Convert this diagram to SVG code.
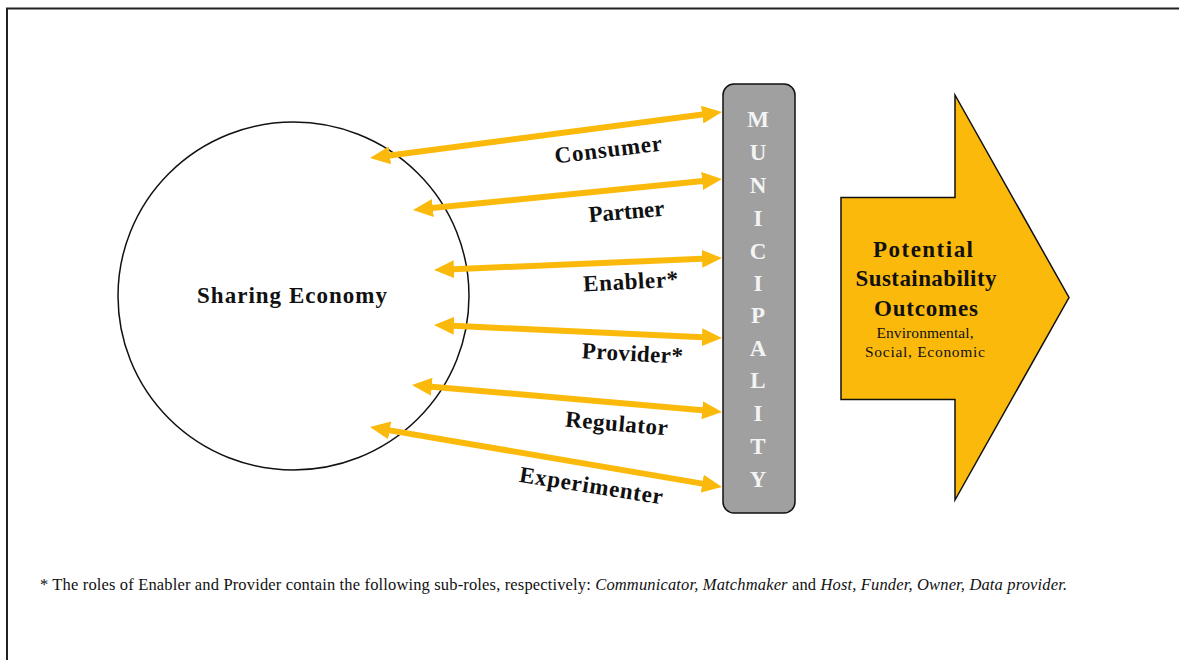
<svg xmlns="http://www.w3.org/2000/svg" width="1179" height="660" viewBox="0 0 1179 660">
<defs>
<style>
.lbl{font-family:"Liberation Serif","Times New Roman",serif;font-weight:bold;font-size:23px;fill:#111;text-anchor:middle}
.conn{stroke:#FBBA0B;stroke-width:6;fill:none;marker-start:url(#ah);marker-end:url(#ah)}
.muni{font-family:"Liberation Serif","Times New Roman",serif;font-weight:bold;font-size:23px;fill:#f4f4f4;text-anchor:middle}
.out{font-family:"Liberation Serif","Times New Roman",serif;font-weight:bold;font-size:23px;fill:#111;text-anchor:middle}
.outs{font-family:"Liberation Serif","Times New Roman",serif;font-size:15.5px;fill:#111;text-anchor:middle}
.foot{font-family:"Liberation Serif","Times New Roman",serif;font-size:16.5px;fill:#111}
</style>
<marker id="ah" markerUnits="userSpaceOnUse" viewBox="0 0 20 18" markerWidth="20" markerHeight="18" refX="6" refY="9" orient="auto-start-reverse">
<path d="M0,0 L20,9 L0,18 z" fill="#FBBA0B"/>
</marker>
</defs>
<rect x="0" y="0" width="1179" height="660" fill="#fff"/>
<rect x="7" y="8.5" width="1250" height="700" fill="none" stroke="#222" stroke-width="2"/>

<g id="sharing-economy">
<ellipse cx="293.5" cy="296" rx="175.5" ry="174" fill="#fff" stroke="#111" stroke-width="1.5"/>
<text x="292" y="303" class="lbl" font-size="23" textLength="190" lengthAdjust="spacing">Sharing Economy</text>
</g>

<g id="municipality">
<rect x="723" y="84" width="72" height="429" rx="11" ry="11" fill="#A0A0A0" stroke="#111" stroke-width="1.5"/>
<text class="muni" x="758" y="127">M</text>
<text class="muni" x="758" y="160">U</text>
<text class="muni" x="758" y="193">N</text>
<text class="muni" x="758" y="226">I</text>
<text class="muni" x="758" y="259">C</text>
<text class="muni" x="758" y="291">I</text>
<text class="muni" x="758" y="323">P</text>
<text class="muni" x="758" y="356">A</text>
<text class="muni" x="758" y="388">L</text>
<text class="muni" x="758" y="421">I</text>
<text class="muni" x="758" y="454">T</text>
<text class="muni" x="758" y="487">Y</text>
</g>

<g id="outcomes">
<path d="M841,197.5 L955,197.5 L955,95 L1069,297.5 L955,500 L955,399.5 L841,399.5 Z" fill="#FBBA0B" stroke="#111" stroke-width="1.5" stroke-linejoin="miter"/>
<text class="out" x="923" y="256.5" textLength="100" lengthAdjust="spacing">Potential</text>
<text class="out" x="926" y="286" textLength="141" lengthAdjust="spacing">Sustainability</text>
<text class="out" x="926" y="315.5" textLength="104" lengthAdjust="spacing">Outcomes</text>
<text class="outs" x="925" y="338" textLength="97" lengthAdjust="spacing">Environmental,</text>
<text class="outs" x="925" y="356.5" textLength="120" lengthAdjust="spacing">Social, Economic</text>
</g>

<g id="connectors">
<line class="conn" x1="383.9" y1="156.2" x2="708.1" y2="113.8"/>
<line class="conn" x1="426.9" y1="208.6" x2="708.1" y2="180.4"/>
<line class="conn" x1="448.0" y1="269.4" x2="708.0" y2="258.6"/>
<line class="conn" x1="448.0" y1="325.6" x2="708.0" y2="337.4"/>
<line class="conn" x1="425.9" y1="386.2" x2="708.1" y2="410.8"/>
<line class="conn" x1="383.8" y1="429.4" x2="708.2" y2="484.6"/>
</g>

<g id="labels">
<text class="lbl" transform="translate(609,157) rotate(-7)" textLength="108" lengthAdjust="spacing">Consumer</text>
<text class="lbl" transform="translate(627,219) rotate(-5)" textLength="76" lengthAdjust="spacing">Partner</text>
<text class="lbl" transform="translate(631,289) rotate(-3)" textLength="95" lengthAdjust="spacing">Enabler*</text>
<text class="lbl" transform="translate(632,361) rotate(3)" textLength="101" lengthAdjust="spacing">Provider*</text>
<text class="lbl" transform="translate(616,431) rotate(5)" textLength="103" lengthAdjust="spacing">Regulator</text>
<text class="lbl" transform="translate(590,493) rotate(9)" textLength="145" lengthAdjust="spacing">Experimenter</text>
</g>

<g id="footnote">
<text class="foot" x="40" y="590" textLength="1027" lengthAdjust="spacing">* The roles of Enabler and Provider contain the following sub-roles, respectively: <tspan font-style="italic">Communicator, Matchmaker</tspan> and <tspan font-style="italic">Host, Funder, Owner, Data provider.</tspan></text>
</g>
</svg>
